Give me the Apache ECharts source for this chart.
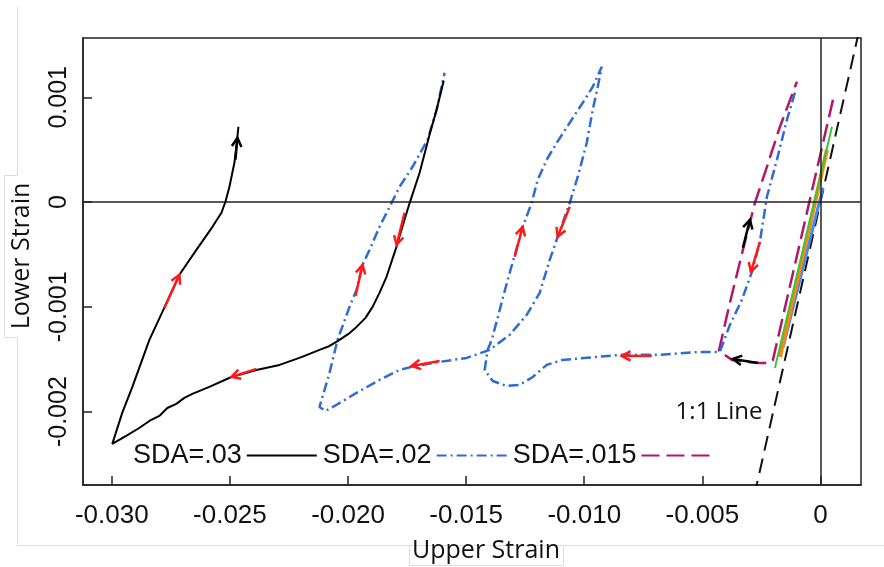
<!DOCTYPE html>
<html>
<head>
<meta charset="utf-8">
<script src="https://cdn.jsdelivr.net/npm/echarts@6/dist/echarts.min.js"></script>
<style>
  html, body { margin: 0; padding: 0; background: #fff; }
  #chart { width: 884px; height: 567px; }
</style>
</head>
<body>
<div id="chart"></div>
<script>
// Axis ticks
const xTicks = [-0.030, -0.025, -0.020, -0.015, -0.010, -0.005, 0];
const xTickLabels = ['-0.030', '-0.025', '-0.020', '-0.015', '-0.010', '-0.005', '0'];
const yTicks = [-0.002, -0.001, 0, 0.001];
const yTickLabels = ['-0.002', '-0.001', '0', '0.001'];

const seriesNames = ['SDA=.03', 'SDA=.02', 'SDA=.015'];

// Strain paths [upper strain, lower strain], in loading order
const sda015 = [
  [0.000530, 0.000977], [-0.000742, -0.000265], [-0.002013, -0.001506],
  [-0.002140, -0.001535], [-0.002564, -0.001535], [-0.003199, -0.001525],
  [-0.003750, -0.001506], [-0.004301, -0.001420], [-0.003835, -0.000962],
  [-0.003284, -0.000456], [-0.002775, -0.000007], [-0.002267, 0.000337],
  [-0.001716, 0.000719], [-0.000996, 0.001149]
];

const sda02 = [
  [-0.001081, 0.001044], [-0.001419, 0.000786], [-0.001843, 0.000404],
  [-0.002267, 0.000051], [-0.002564, -0.000379], [-0.002903, -0.000666],
  [-0.003326, -0.000933], [-0.003835, -0.001172], [-0.004258, -0.001430],
  [-0.005106, -0.001430], [-0.006801, -0.001458], [-0.008496, -0.001458],
  [-0.009470, -0.001478], [-0.010911, -0.001506], [-0.011589, -0.001554],
  [-0.012182, -0.001669], [-0.012733, -0.001745], [-0.013284, -0.001755],
  [-0.013877, -0.001707], [-0.014216, -0.001602], [-0.014089, -0.001411],
  [-0.013919, -0.001315], [-0.013665, -0.001105], [-0.013411, -0.000885],
  [-0.013157, -0.000675], [-0.012903, -0.000475], [-0.012606, -0.000236],
  [-0.012225, -0.000007], [-0.011970, 0.000213], [-0.011589, 0.000404],
  [-0.011165, 0.000566], [-0.010614, 0.000757], [-0.010064, 0.000948],
  [-0.009640, 0.001101], [-0.009258, 0.001292], [-0.009428, 0.001101],
  [-0.009640, 0.000882], [-0.009894, 0.000566], [-0.010275, 0.000242],
  [-0.010614, -0.000007], [-0.011123, -0.000331], [-0.011462, -0.000551],
  [-0.011886, -0.000866], [-0.012436, -0.001076], [-0.013157, -0.001267],
  [-0.014004, -0.001411], [-0.014979, -0.001487], [-0.016123, -0.001525],
  [-0.017309, -0.001573], [-0.017818, -0.001602], [-0.018665, -0.001697],
  [-0.019640, -0.001821], [-0.020572, -0.001946], [-0.020953, -0.001993],
  [-0.021208, -0.001955], [-0.020784, -0.001630], [-0.020445, -0.001315],
  [-0.019936, -0.001000], [-0.019640, -0.000838], [-0.019386, -0.000599],
  [-0.019089, -0.000456], [-0.018665, -0.000236], [-0.018157, -0.000007],
  [-0.017818, 0.000146], [-0.017267, 0.000337], [-0.016631, 0.000595],
  [-0.016250, 0.000882], [-0.015911, 0.001235]
];

const sda03 = [
  [-0.01595, 0.001158], [-0.01625, 0.000882], [-0.01655, 0.000643],
  [-0.01697, 0.000280], [-0.01739, -0.000007], [-0.01761, -0.000169],
  [-0.01795, -0.000427], [-0.01837, -0.000713], [-0.01867, -0.000866],
  [-0.01896, -0.001000], [-0.01926, -0.001105], [-0.01964, -0.001191],
  [-0.01998, -0.001258], [-0.02036, -0.001315], [-0.02078, -0.001373],
  [-0.02121, -0.001411], [-0.02163, -0.001449], [-0.02206, -0.001487],
  [-0.02290, -0.001554], [-0.02388, -0.001602],
  [-0.02494, -0.001669], [-0.02587, -0.001764], [-0.02659, -0.001831],
  [-0.02693, -0.001869], [-0.02727, -0.001926], [-0.02765, -0.001965],
  [-0.02799, -0.002041], [-0.02841, -0.002089], [-0.02884, -0.002156],
  [-0.02934, -0.002223], [-0.02998, -0.002308], [-0.02956, -0.002012],
  [-0.02913, -0.001764], [-0.02841, -0.001315], [-0.02778, -0.001010],
  [-0.02714, -0.000694], [-0.02642, -0.000456], [-0.02574, -0.000236],
  [-0.02536, -0.000102], [-0.02519, 0.000003], [-0.02502, 0.000146],
  [-0.02481, 0.000375], [-0.02473, 0.000528], [-0.02464, 0.000719]
];

// Early elastic cycles near the origin
const cycleGreen = [[0.000487, 0.000719], [-0.001928, -0.001583]];
const cycleOrange = [[0.000275, 0.000500], [-0.001716, -0.001478]];
const cycleBlue = [[0.000106, 0.000137], [-0.001589, -0.001392]];

// Equal-strain reference
const oneToOne = [[-0.0028, -0.0028], [0.0017, 0.0017]];

// Direction arrows [fromX, fromY, toX, toY]
const redArrows = [
  [-0.027775, -0.001010, -0.027140, -0.000694],
  [-0.023877, -0.001592, -0.024936, -0.001669],
  [-0.017606, -0.000102, -0.017945, -0.000408],
  [-0.019682, -0.000895, -0.019386, -0.000599],
  [-0.016123, -0.001516, -0.017309, -0.001564],
  [-0.012945, -0.000522, -0.012606, -0.000236],
  [-0.010614, -0.000045, -0.011123, -0.000331],
  [-0.007140, -0.001468, -0.008411, -0.001468],
  [-0.002564, -0.000379, -0.002945, -0.000666]
];
const blackArrows = [
  [-0.003284, -0.000436, -0.002987, -0.000169],
  [-0.002648, -0.001535, -0.003708, -0.001497],
  [-0.024767, 0.000404, -0.024682, 0.000614]
];

function fmtTick(values, labels) {
  return function (v) {
    for (let i = 0; i < values.length; i++) {
      if (Math.abs(values[i] - v) < 1e-9) return labels[i];
    }
    return '';
  };
}

function arrowRenderer(color) {
  return function (params, api) {
    const a = api.coord([api.value(0), api.value(1)]);
    const b = api.coord([api.value(2), api.value(3)]);
    const ang = Math.atan2(b[1] - a[1], b[0] - a[0]);
    const len = 10, spread = 0.5;
    const w1 = [b[0] - len * Math.cos(ang - spread), b[1] - len * Math.sin(ang - spread)];
    const w2 = [b[0] - len * Math.cos(ang + spread), b[1] - len * Math.sin(ang + spread)];
    return {
      type: 'group',
      children: [
        { type: 'line', shape: { x1: a[0], y1: a[1], x2: b[0], y2: b[1] },
          style: { stroke: color, lineWidth: 2.5 } },
        { type: 'polyline', shape: { points: [w1, b, w2] },
          style: { stroke: color, lineWidth: 2.5, fill: null } }
      ]
    };
  };
}

const chart = echarts.init(document.getElementById('chart'));

const tickFont = 'Liberation Sans, Arial, sans-serif';
const titleFont = 'Open Sans, Noto Sans, sans-serif';
const frameGray = '#dcdcdc';

chart.setOption({
  animation: false,
  backgroundColor: '#fff',
  grid: {
    left: 83, right: 23, top: 38, bottom: 82,
    show: true, borderColor: '#222', borderWidth: 1.5
  },
  xAxis: {
    type: 'value',
    min: -0.03122, max: 0.001716,
    axisLine: { onZero: false, lineStyle: { color: '#222', width: 1.5 } },
    axisTick: { inside: true, length: 9, customValues: xTicks, lineStyle: { color: '#222', width: 1.5 } },
    axisLabel: { customValues: xTicks, formatter: fmtTick(xTicks, xTickLabels),
      fontSize: 26, fontFamily: tickFont, color: '#111', margin: 18 },
    splitLine: { show: false }
  },
  yAxis: {
    type: 'value',
    min: -0.0027, max: 0.001566,
    axisLine: { onZero: false, lineStyle: { color: '#222', width: 1.5 } },
    axisTick: { inside: true, length: 9, customValues: yTicks, lineStyle: { color: '#222', width: 1.5 } },
    axisLabel: { customValues: yTicks, formatter: fmtTick(yTicks, yTickLabels),
      rotate: 90, fontSize: 25, fontFamily: tickFont, color: '#111', margin: 11 },
    splitLine: { show: false }
  },
  legend: {
    data: seriesNames,
    left: 133, top: 442, padding: 0,
    align: 'right',
    itemWidth: 70, itemHeight: 14, itemGap: 5,
    itemStyle: { opacity: 0 },
    textStyle: { fontSize: 27, fontFamily: tickFont, color: '#111' }
  },
  series: [
    {
      type: 'line', data: oneToOne, showSymbol: false, silent: true, z: 2,
      lineStyle: { color: '#111', width: 2, type: [15, 8] },
      markLine: {
        silent: true, symbol: 'none', label: { show: false },
        lineStyle: { color: '#222', width: 1.5, type: 'solid' },
        data: [{ yAxis: 0 }, { xAxis: 0 }]
      }
    },
    { type: 'line', data: cycleBlue, showSymbol: false, silent: true, z: 3,
      lineStyle: { color: '#3d8af7', width: 3 } },
    { type: 'line', data: cycleOrange, showSymbol: false, silent: true, z: 3,
      lineStyle: { color: '#f7870f', width: 4 } },
    { type: 'line', data: cycleGreen, showSymbol: false, silent: true, z: 3,
      lineStyle: { color: '#3fc43a', width: 2 } },
    { name: seriesNames[2], type: 'line', data: sda015, symbol: 'none', silent: true, z: 4,
      itemStyle: { color: '#b3176b' },
      lineStyle: { color: '#b3176b', width: 2.5, type: [18, 7] } },
    { name: seriesNames[1], type: 'line', data: sda02, symbol: 'none', silent: true, z: 4,
      itemStyle: { color: '#2f6bd1' },
      lineStyle: { color: '#2f6bd1', width: 2.5, type: [10, 4, 2, 4] } },
    { name: seriesNames[0], type: 'line', data: sda03, symbol: 'none', silent: true, z: 5,
      itemStyle: { color: '#000' },
      lineStyle: { color: '#000', width: 2 } },
    { type: 'custom', data: redArrows, renderItem: arrowRenderer('#ff1a1a'),
      encode: { x: [0, 2], y: [1, 3] }, silent: true, z: 8 },
    { type: 'custom', data: blackArrows, renderItem: arrowRenderer('#000'),
      encode: { x: [0, 2], y: [1, 3] }, silent: true, z: 8 }
  ],
  graphic: [
    { type: 'polyline', silent: true, z: 0,
      shape: { points: [[17.5, 7], [17.5, 545.5], [884, 545.5]] },
      style: { stroke: frameGray, lineWidth: 1, fill: null } },
    { type: 'rect', silent: true, z: 1,
      shape: { x: 4.5, y: 175.5, width: 44, height: 162 },
      style: { fill: '#fff', stroke: null } },
    { type: 'polyline', silent: true, z: 2,
      shape: { points: [[18, 175.5], [4.5, 175.5], [4.5, 337.5], [18, 337.5]] },
      style: { stroke: frameGray, lineWidth: 1, fill: null } },
    { type: 'text', silent: true, z: 3,
      x: 22, y: 256, rotation: Math.PI / 2,
      style: { text: 'Lower Strain', font: '25px ' + titleFont, fill: '#111',
        align: 'center', verticalAlign: 'middle' } },
    { type: 'rect', silent: true, z: 2,
      shape: { x: 409.5, y: 545.5, width: 154, height: 20 },
      style: { fill: '#fff', stroke: frameGray, lineWidth: 1 } },
    { type: 'text', silent: true, z: 3,
      x: 486, y: 551,
      style: { text: 'Upper Strain', font: '25px ' + titleFont, fill: '#111',
        align: 'center', verticalAlign: 'middle' } },
    { type: 'text', silent: true, z: 10,
      x: 719, y: 412,
      style: { text: '1:1 Line', font: '24px ' + titleFont, fill: '#111',
        align: 'center', verticalAlign: 'middle' } }
  ]
});
</script>
</body>
</html>
